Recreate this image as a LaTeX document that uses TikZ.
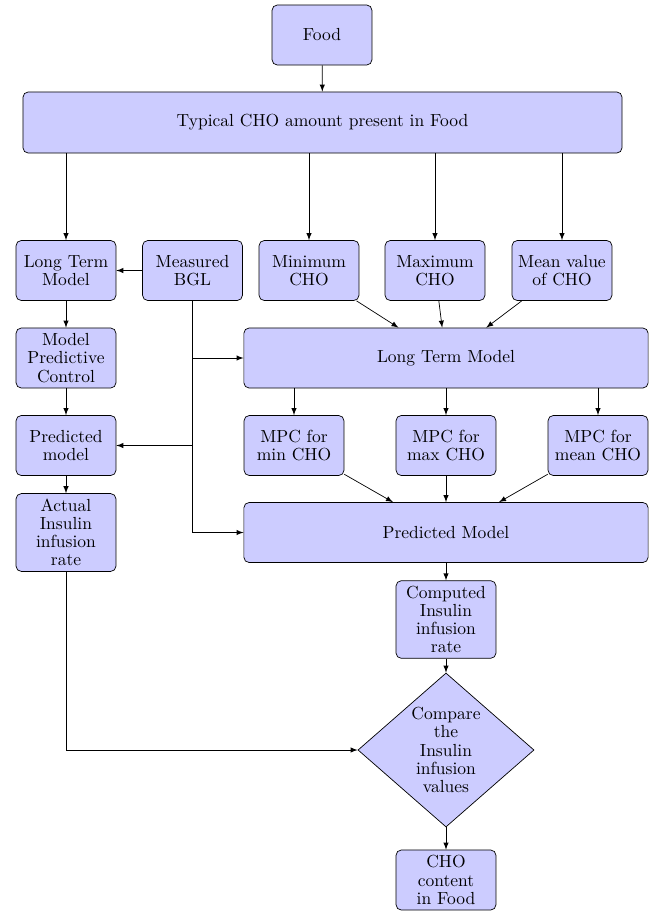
\documentclass[tikz,border=0pt]{standalone}
\usetikzlibrary{shapes.geometric,arrows}

\tikzset{
  blk/.style={draw, rounded corners=3pt, fill=blue!20, align=center,
    text width=51pt, minimum width=57.1pt, minimum height=34.3pt, inner sep=3pt,
    font=\fontsize{10}{10.4}\selectfont},
  widebox/.style={blk, text width=225pt, minimum width=230.9pt},
  decide/.style={draw, diamond, fill=blue!20, align=center, text width=40pt,
    inner sep=0pt, aspect=1.14, minimum width=100.6pt, minimum height=88pt,
    font=\fontsize{10}{10.4}\selectfont},
  line/.style={draw, -latex}
}

\begin{document}
\begin{tikzpicture}[x=0.5714pt, y=-0.5714pt]
  \useasboundingbox (0,0) rectangle (656,912);

  % top
  \node[blk] (food) at (322,35) {Food};
  \node[blk, text width=336pt, minimum width=342.3pt, minimum height=34.9pt] (typ) at (322.5,122.5) {Typical CHO amount present in Food};

  % first row
  \node[blk] (ltmA) at (66,270.5) {Long Term Model};
  \node[blk] (bgl) at (192.5,270.5) {Measured BGL};
  \node[blk] (minc) at (309,270.5) {Minimum CHO};
  \node[blk] (maxc) at (435,270.5) {Maximum CHO};
  \node[blk] (meanc) at (562,270.5) {Mean value of CHO};

  % left column
  \node[blk] (mpc) at (66,358) {Model Predictive Control};
  \node[blk] (predA) at (66,445.5) {Predicted model};
  \node[blk] (act) at (66,532.5) {Actual Insulin infusion rate};

  % right part
  \node[widebox] (ltmB) at (446,358) {Long Term Model};
  \node[blk] (mpcmin) at (294,445.5) {MPC for min CHO};
  \node[blk] (mpcmax) at (446,445.5) {MPC for max CHO};
  \node[blk] (mpcmean) at (598,445.5) {MPC for mean CHO};
  \node[widebox] (predB) at (446,532.5) {Predicted Model};
  \node[blk] (comp) at (446,619.5) {Computed Insulin infusion rate};
  \node[decide] (cmp) at (446,750) {Compare the Insulin infusion values};
  \node[blk] (cho) at (446,880) {CHO content in Food};

  % connectors
  \path[line] (food) -- (typ);
  \path[line] (typ.south -| ltmA) -- (ltmA);
  \path[line] (typ.south -| minc) -- (minc);
  \path[line] (typ.south -| maxc) -- (maxc);
  \path[line] (typ.south -| meanc) -- (meanc);

  \path[line] (bgl) -- (ltmA);
  \path[line] (ltmA) -- (mpc);
  \path[line] (mpc) -- (predA);
  \path[line] (predA) -- (act);

  \path[line] (bgl.south) |- (ltmB.west);
  \path[line] (bgl.south) |- (predA.east);
  \path[line] (bgl.south) |- (predB.west);

  \path[line] (minc) -- (ltmB);
  \path[line] (maxc) -- (ltmB);
  \path[line] (meanc) -- (ltmB);

  \path[line] (ltmB.south -| mpcmin) -- (mpcmin);
  \path[line] (ltmB.south -| mpcmax) -- (mpcmax);
  \path[line] (ltmB.south -| mpcmean) -- (mpcmean);

  \path[line] (mpcmin) -- (predB);
  \path[line] (mpcmax) -- (predB);
  \path[line] (mpcmean) -- (predB);

  \path[line] (predB) -- (comp);
  \path[line] (comp) -- (cmp);
  \path[line] (cmp) -- (cho);
  \path[line] (act.south) |- (cmp.west);
\end{tikzpicture}
\end{document}
